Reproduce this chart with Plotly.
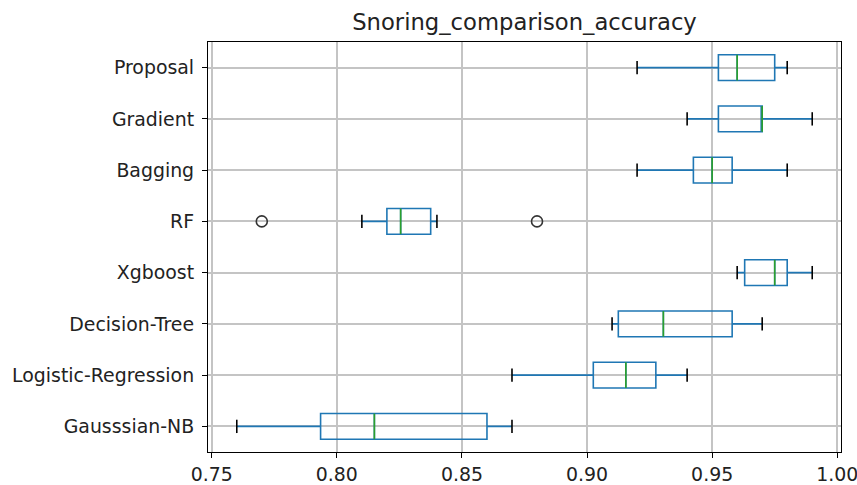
import plotly.graph_objects as go

categories = ["Gausssian-NB", "Logistic-Regression", "Decision-Tree", "Xgboost",
              "RF", "Bagging", "Gradient", "Proposal"]
lower_whisker = [0.76, 0.87, 0.91, 0.96, 0.81, 0.92, 0.94, 0.92]
q1_vals = [0.7935, 0.9025, 0.9125, 0.963, 0.820, 0.9425, 0.9525, 0.9525]
median_vals = [0.815, 0.9155, 0.9305, 0.975, 0.8255, 0.950, 0.970, 0.960]
q3_vals = [0.860, 0.9275, 0.958, 0.980, 0.8375, 0.958, 0.970, 0.975]
upper_whisker = [0.87, 0.94, 0.97, 0.99, 0.84, 0.98, 0.99, 0.98]
outlier_cat = ["RF", "RF"]
outlier_vals = [0.77, 0.88]
x_ticks = [0.75, 0.80, 0.85, 0.90, 0.95, 1.00]

BLUE = "#1f77b4"
GREEN = "#2ca02c"
BOX_W = 0.5
CAP_HALF = 0.13

pos = list(range(1, len(categories) + 1))
pos_of = {c: p for c, p in zip(categories, pos)}

fig = go.Figure()
fig.add_trace(go.Box(
    y=pos, q1=q1_vals, median=median_vals, q3=q3_vals,
    lowerfence=lower_whisker, upperfence=upper_whisker,
    orientation="h", width=BOX_W, whiskerwidth=0,
    line=dict(color=BLUE, width=1.6), fillcolor="rgba(0,0,0,0)",
    boxpoints=False, hoverinfo="skip", showlegend=False,
))

# medians
mx, my = [], []
for p, m in zip(pos, median_vals):
    mx += [m, m, None]
    my += [p - BOX_W / 2, p + BOX_W / 2, None]
fig.add_trace(go.Scatter(x=mx, y=my, mode="lines", line=dict(color=GREEN, width=1.6),
                         hoverinfo="skip", showlegend=False))

# caps
cx, cy = [], []
for p, lo, hi in zip(pos, lower_whisker, upper_whisker):
    for v in (lo, hi):
        cx += [v, v, None]
        cy += [p - CAP_HALF, p + CAP_HALF, None]
fig.add_trace(go.Scatter(x=cx, y=cy, mode="lines", line=dict(color="black", width=1.6),
                         hoverinfo="skip", showlegend=False))

# outliers
fig.add_trace(go.Scatter(
    x=outlier_vals, y=[pos_of[c] for c in outlier_cat], mode="markers",
    marker=dict(symbol="circle-open", size=11, color="#333333", line=dict(width=1.6)),
    hoverinfo="skip", showlegend=False,
))

axis_common = dict(
    showline=True, mirror=True, linecolor="black", linewidth=1.2,
    ticks="outside", ticklen=5, tickcolor="black", tickwidth=1.2,
    showgrid=True, gridcolor="#c4c4c4", gridwidth=1.5, zeroline=False,
    automargin=False, ticklabeloverflow="allow",
    tickfont=dict(family="DejaVu Sans", size=18.9, color="#222222"),
)

fig.update_layout(
    width=857, height=485,
    margin=dict(l=208, r=16, t=42, b=33),
    plot_bgcolor="white", paper_bgcolor="white",
    font=dict(family="DejaVu Sans", color="#222222"),
    title=dict(text="Snoring_comparison_accuracy", x=0.5, xref="paper",
               y=1 - 22 / 485, yref="container", yanchor="middle", xanchor="center",
               font=dict(family="DejaVu Sans", size=22.7, color="#222222")),
    xaxis=dict(range=[0.7485, 1.0015], tickvals=x_ticks,
               ticktext=[f"{v:.2f}" for v in x_ticks], **axis_common),
    yaxis=dict(range=[0.5, 8.5], tickvals=pos, ticktext=categories,
               ticklabelstandoff=4, **axis_common),
)

fig.write_html("out.html")
